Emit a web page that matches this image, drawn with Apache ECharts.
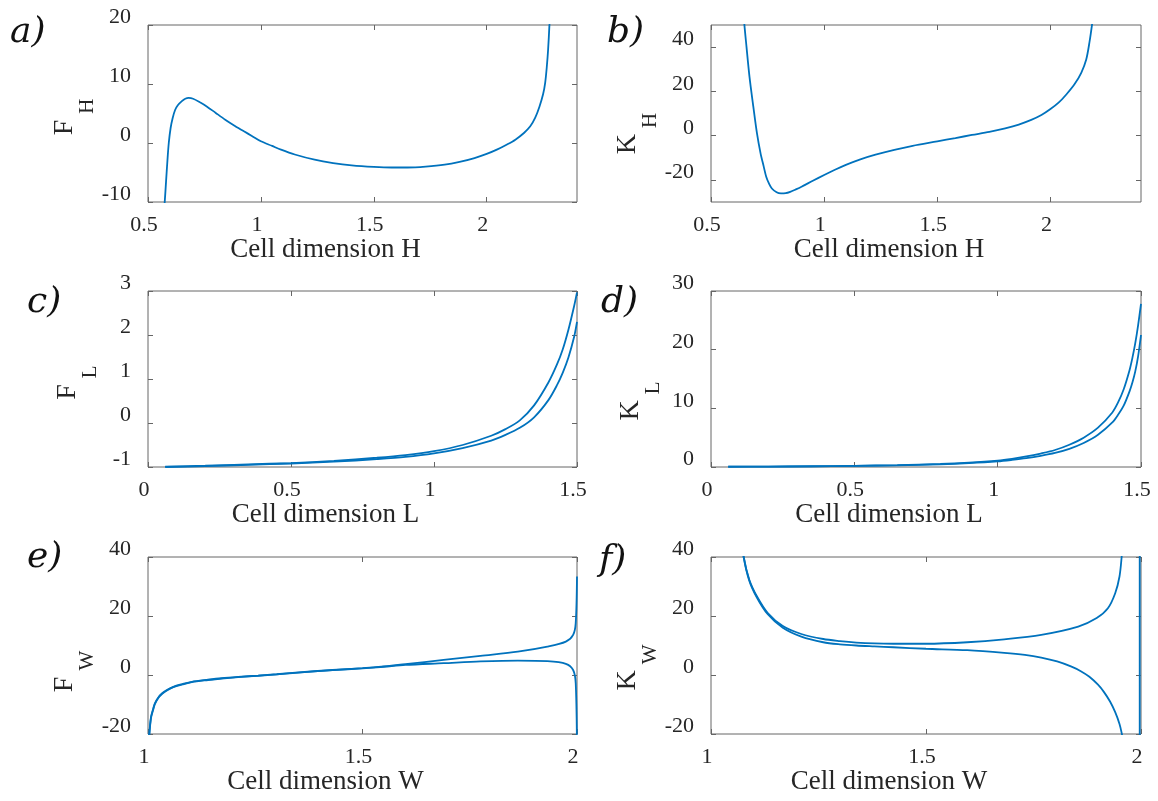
<!DOCTYPE html>
<html>
<head>
<meta charset="utf-8">
<title>Cell dimension sweeps</title>
<script src="https://cdn.jsdelivr.net/npm/echarts@6/dist/echarts.min.js"></script>
<style>
html, body { margin: 0; padding: 0; background: #ffffff; }
#chart { width: 1158px; height: 801px; }
</style>
</head>
<body>
<div id="chart"></div>
<script>
// a) F_H against cell dimension H
var aX = [0.565, 0.574, 0.580, 0.586, 0.592, 0.600, 0.609, 0.620, 0.632, 0.650, 0.665, 0.680, 0.700, 0.730, 0.760, 0.800, 0.842, 0.885, 0.925, 0.960, 1.000, 1.050, 1.089, 1.150, 1.238, 1.320, 1.402, 1.500, 1.580, 1.649, 1.730, 1.814, 1.880, 1.946, 2.000, 2.045, 2.090, 2.127, 2.165, 2.193, 2.215, 2.234, 2.250, 2.259, 2.266, 2.272, 2.278, 2.282];
var aY = [-14, -10, -6.5, -3.0, 0.0, 2.5, 4.2, 5.6, 6.4, 7.1, 7.5, 7.64, 7.5, 6.9, 6.2, 5.1, 3.96, 2.9, 1.98, 1.2, 0.3, -0.5, -1.13, -1.95, -2.83, -3.4, -3.79, -4.05, -4.15, -4.15, -4.0, -3.68, -3.2, -2.55, -1.85, -1.13, -0.25, 0.57, 1.7, 2.83, 4.3, 6.2, 8.3, 10.2, 12.8, 15.8, 20.1, 24];

// b) K_H against cell dimension H
var bX = [0.642, 0.646, 0.657, 0.670, 0.687, 0.703, 0.719, 0.733, 0.744, 0.756, 0.769, 0.790, 0.809, 0.830, 0.850, 0.875, 0.900, 0.950, 1.000, 1.050, 1.096, 1.160, 1.227, 1.310, 1.391, 1.500, 1.580, 1.653, 1.730, 1.800, 1.860, 1.915, 1.960, 2.000, 2.037, 2.070, 2.106, 2.136, 2.158, 2.172, 2.184, 2.190];
var bY = [60, 52, 40, 26.7, 13.1, 1.1, -8.0, -14.0, -18.6, -21.6, -23.9, -25.6, -26.1, -26.0, -25.4, -24.3, -23.1, -20.4, -17.8, -15.3, -13.2, -10.7, -8.6, -6.4, -4.6, -2.6, -1.1, 0.3, 1.7, 3.3, 5.0, 7.1, 9.3, 12.0, 15.0, 18.6, 23.2, 28.4, 34.4, 42.0, 50.5, 56];

// c) F_L against cell dimension L (two branches)
var cX = [0.06, 0.2, 0.35, 0.5, 0.65, 0.8, 0.9, 1.0, 1.1, 1.2, 1.25, 1.3, 1.35, 1.4, 1.43, 1.45, 1.47, 1.49, 1.5];
var cUpper = [-0.99, -0.97, -0.94, -0.91, -0.86, -0.79, -0.73, -0.64, -0.50, -0.29, -0.14, 0.06, 0.40, 0.92, 1.33, 1.67, 2.12, 2.66, 2.97];
var cLower = [-1.0, -0.98, -0.95, -0.92, -0.88, -0.82, -0.77, -0.69, -0.57, -0.40, -0.27, -0.11, 0.13, 0.52, 0.86, 1.14, 1.49, 1.96, 2.30];

// d) K_L against cell dimension L (two branches)
var dX = [0.06, 0.2, 0.35, 0.5, 0.65, 0.8, 0.9, 1.0, 1.05, 1.1, 1.15, 1.2, 1.25, 1.3, 1.35, 1.4, 1.42, 1.44, 1.46, 1.47, 1.48, 1.49, 1.5];
var dUpper = [0.05, 0.08, 0.13, 0.2, 0.32, 0.52, 0.75, 1.1, 1.4, 1.8, 2.3, 2.9, 3.8, 5.0, 6.7, 9.3, 11.0, 13.3, 16.5, 18.6, 21.1, 24.2, 27.8];
var dLower = [0.04, 0.07, 0.11, 0.18, 0.28, 0.45, 0.65, 0.95, 1.2, 1.5, 1.9, 2.4, 3.1, 4.1, 5.5, 7.6, 8.9, 10.5, 12.9, 14.4, 16.3, 18.9, 22.5];

// e) F_W against cell dimension W (two branches)
var eX = [1.001, 1.003, 1.007, 1.012, 1.016, 1.024, 1.033, 1.045, 1.059, 1.08, 1.102, 1.14, 1.171, 1.21, 1.257, 1.3, 1.344, 1.43, 1.5, 1.55, 1.6, 1.689, 1.775, 1.862, 1.931, 1.974, 1.991, 1.997, 2.0];
var eUpper = [-26, -20, -14.2, -11.5, -9.6, -7.6, -6.2, -5.0, -4.0, -3.1, -2.3, -1.6, -1.1, -0.65, -0.2, 0.25, 0.8, 1.7, 2.3, 2.9, 3.7, 5.1, 6.5, 7.9, 9.6, 11.3, 13.6, 17.6, 33.4];
var eLower = [-26.5, -20.5, -14.6, -11.8, -9.9, -7.8, -6.4, -5.15, -4.1, -3.2, -2.4, -1.7, -1.2, -0.7, -0.25, 0.2, 0.75, 1.65, 2.25, 2.8, 3.4, 4.0, 4.6, 4.9, 4.7, 3.8, 1.7, -2.8, -26];

// f) K_W against cell dimension W (two branches + jump at W = 2)
var fUpperX = [1.07, 1.076, 1.089, 1.107, 1.132, 1.167, 1.21, 1.261, 1.3, 1.338, 1.38, 1.424, 1.5, 1.596, 1.682, 1.768, 1.854, 1.897, 1.923, 1.94, 1.95, 1.955, 1.958];
var fUpperY = [48, 40, 32.3, 26.6, 21.0, 16.6, 13.9, 12.2, 11.5, 11.0, 10.7, 10.6, 10.6, 11.1, 12.1, 13.6, 16.4, 19.3, 22.6, 27.7, 33.4, 40, 46];
var fLowerX = [1.07, 1.076, 1.089, 1.107, 1.132, 1.167, 1.21, 1.261, 1.3, 1.338, 1.38, 1.424, 1.5, 1.596, 1.682, 1.73, 1.768, 1.805, 1.837, 1.86, 1.88, 1.9, 1.914, 1.928, 1.94, 1.95, 1.955, 1.96];
var fLowerY = [48, 40, 32.0, 26.2, 20.6, 16.0, 13.0, 11.1, 10.4, 10.0, 9.7, 9.4, 8.9, 8.4, 7.5, 6.8, 5.9, 4.6, 2.9, 1.3, -0.6, -3.3, -5.8, -9.0, -12.6, -16.6, -19.6, -23.5];
var fJumpX = [1.997, 1.997];
var fJumpY = [-30, 50];

// tick labels
var hTicks = [0.5, 1, 1.5, 2];
var lTicks = [0, 0.5, 1, 1.5];
var wTicks = [1, 1.5, 2];
var aYTicks = [-10, 0, 10, 20];
var bYTicks = [-20, 0, 20, 40];
var cYTicks = [-1, 0, 1, 2, 3];
var dYTicks = [0, 10, 20, 30];
var eYTicks = [-20, 0, 20, 40];
var fYTicks = [-20, 0, 20, 40];

var lineColor = '#0072bd';
var textColor = '#262626';
var boxColor = '#666666';
var serif = '"Liberation Serif", "Times New Roman", serif';
var tagFont = '"DejaVu Serif", "Liberation Serif", serif';

function pairs(xs, ys) {
    return xs.map(function (x, i) { return [x, ys[i]]; });
}

var panels = [
    { tag: 'a)', tagPos: [10, 15], sym: 'F', sub: 'H', xName: 'Cell dimension H',
      left: 148, top: 25, width: 429, height: 177, xMin: 0.5, xMax: 2.4, yMin: -10, yMax: 20,
      xTicks: hTicks, yTicks: aYTicks, shift: 7, lines: [pairs(aX, aY)] },
    { tag: 'b)', tagPos: [607, 15], sym: 'K', sub: 'H', xName: 'Cell dimension H',
      left: 711, top: 25, width: 430, height: 177, xMin: 0.5, xMax: 2.4, yMin: -30, yMax: 50,
      xTicks: hTicks, yTicks: bYTicks, shift: 40, lines: [pairs(bX, bY)] },
    { tag: 'c)', tagPos: [27, 285], sym: 'F', sub: 'L', xName: 'Cell dimension L',
      left: 148, top: 291, width: 429, height: 176, xMin: 0, xMax: 1.5, yMin: -1, yMax: 3,
      xTicks: lTicks, yTicks: cYTicks, shift: 7, lines: [pairs(cX, cUpper), pairs(cX, cLower)] },
    { tag: 'd)', tagPos: [601, 285], sym: 'K', sub: 'L', xName: 'Cell dimension L',
      left: 711, top: 291, width: 430, height: 176, xMin: 0, xMax: 1.5, yMin: 0, yMax: 30,
      xTicks: lTicks, yTicks: dYTicks, shift: 44, lines: [pairs(dX, dUpper), pairs(dX, dLower)] },
    { tag: 'e)', tagPos: [27, 540], sym: 'F', sub: 'W', xName: 'Cell dimension W',
      left: 148, top: 557, width: 429, height: 177, xMin: 1, xMax: 2, yMin: -20, yMax: 40,
      xTicks: wTicks, yTicks: eYTicks, shift: 52, lines: [pairs(eX, eUpper), pairs(eX, eLower)] },
    { tag: 'f)', tagPos: [599, 543], sym: 'K', sub: 'W', xName: 'Cell dimension W',
      left: 711, top: 557, width: 430, height: 177, xMin: 1, xMax: 2, yMin: -20, yMax: 40,
      xTicks: wTicks, yTicks: fYTicks, shift: 44,
      lines: [pairs(fUpperX, fUpperY), pairs(fLowerX, fLowerY), pairs(fJumpX, fJumpY)] }
];

var option = {
    animation: false,
    backgroundColor: '#ffffff',
    title: [],
    grid: [],
    xAxis: [],
    yAxis: [],
    series: []
};

var labelStyle = { fontFamily: serif, fontSize: 22, color: textColor };
var tickStyle = { color: boxColor, width: 1 };

panels.forEach(function (p, i) {
    option.title.push({
        text: p.tag, left: p.tagPos[0], top: p.tagPos[1], padding: 0,
        textStyle: { fontFamily: tagFont, fontStyle: 'italic', fontWeight: 'normal', fontSize: 36, color: '#111111' }
    });

    option.grid.push({
        left: p.left, top: p.top, width: p.width, height: p.height,
        show: true, borderColor: boxColor, borderWidth: 1,
        containLabel: false, outerBoundsMode: 'none'
    });

    // bottom axis with labels, top axis only mirrors the ticks
    option.xAxis.push({
        type: 'value', gridIndex: i, position: 'bottom', min: p.xMin, max: p.xMax,
        name: p.xName, nameLocation: 'middle', nameGap: 34,
        nameTextStyle: { fontFamily: serif, fontSize: 27, color: textColor, padding: [0, 74, 0, 0] },
        axisLine: { show: false, onZero: false },
        splitLine: { show: false },
        axisTick: { inside: true, length: 5, customValues: p.xTicks, lineStyle: tickStyle },
        axisLabel: Object.assign({ customValues: p.xTicks, margin: 12, padding: [0, 8, 0, 0] }, labelStyle)
    });
    option.xAxis.push({
        type: 'value', gridIndex: i, position: 'top', min: p.xMin, max: p.xMax,
        axisLine: { show: false, onZero: false },
        splitLine: { show: false },
        axisTick: { inside: true, length: 5, customValues: p.xTicks, lineStyle: tickStyle },
        axisLabel: { show: false }
    });

    option.yAxis.push({
        type: 'value', gridIndex: i, position: 'left', min: p.yMin, max: p.yMax,
        name: '{m|' + p.sym + '}{s|' + p.sub + '}', nameLocation: 'middle', nameRotate: 90, nameGap: 47,
        nameTextStyle: {
            fontFamily: serif, color: textColor,
            rich: {
                m: { fontFamily: serif, fontSize: 28, color: textColor, verticalAlign: 'top' },
                s: { fontFamily: serif, fontSize: 21, color: textColor, verticalAlign: 'top', padding: [26, p.shift, 0, 6] }
            }
        },
        axisLine: { show: false, onZero: false },
        splitLine: { show: false },
        axisTick: { inside: true, length: 5, customValues: p.yTicks, lineStyle: tickStyle },
        // labels sit a little above their ticks, as in the source figure
        axisLabel: Object.assign({ customValues: p.yTicks, margin: 17, verticalAlign: 'bottom', lineHeight: 15 }, labelStyle)
    });
    option.yAxis.push({
        type: 'value', gridIndex: i, position: 'right', min: p.yMin, max: p.yMax,
        axisLine: { show: false, onZero: false },
        splitLine: { show: false },
        axisTick: { inside: true, length: 5, customValues: p.yTicks, lineStyle: tickStyle },
        axisLabel: { show: false }
    });

    p.lines.forEach(function (pts) {
        option.series.push({
            type: 'line', xAxisIndex: 2 * i, yAxisIndex: 2 * i,
            data: pts, showSymbol: false, symbol: 'none', clip: true, silent: true,
            smooth: 0.3,
            lineStyle: { color: lineColor, width: 1.8 }
        });
    });
});

var myChart = echarts.init(document.getElementById('chart'));
myChart.setOption(option);

window.addEventListener('resize', function () {
    myChart.resize();
});
</script>
</body>
</html>
